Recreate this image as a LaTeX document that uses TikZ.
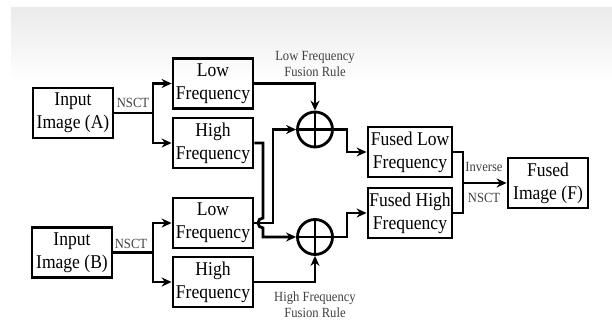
\documentclass[tikz,border=0pt]{standalone}
\usepackage{fontspec}
\setmainfont{Liberation Serif}[FakeStretch=0.9]
\usetikzlibrary{arrows.meta}
\begin{document}
\begin{tikzpicture}[x=1pt,y=-1pt,
  stagebox/.style={draw, line width=2.8pt, inner sep=0pt, minimum width=80pt,
    minimum height=50pt, align=center, font=\fontsize{19.5}{23}\selectfont},
  sumnode/.style={draw, circle, line width=2.8pt, minimum size=35pt, inner sep=0pt},
  wire/.style={line width=2.8pt},
  flow/.style={wire, -{Stealth[length=10pt,width=9pt]}},
  tag/.style={font=\fontsize{14}{16}\selectfont, text=black!75, align=center, inner sep=0pt}]
\useasboundingbox (0,0) rectangle (612,320);
% faint header band
\shade[top color=black!8, bottom color=white] (11,8) rectangle (612,82);

% source images and their NSCT subbands
\node[stagebox] (inA) at (73,113) {Input\\Image (A)};
\node[stagebox] (inB) at (72,252.5) {Input\\Image (B)};
\node[stagebox] (lowA) at (213,83.5) {Low\\Frequency};
\node[stagebox] (highA) at (213,143) {High\\Frequency};
\node[stagebox] (lowB) at (213,223) {Low\\Frequency};
\node[stagebox] (highB) at (213,282) {High\\Frequency};

% fusion adders
\node[sumnode] (sumT) at (315,129.5) {};
\node[sumnode] (sumB) at (315,237) {};
\foreach \s in {sumT,sumB}{
  \draw[wire] (\s.north) -- (\s.south);
  \draw[wire] (\s.west) -- (\s.east);
}

% fused subbands and output
\node[stagebox, minimum width=84pt] (fusedL) at (410,152) {Fused Low\\Frequency};
\node[stagebox, minimum width=84pt] (fusedH) at (410,213) {Fused High\\Frequency};
\node[stagebox] (out) at (548,183) {Fused\\Image (F)};

% labels
\node[tag] (nsctA) at (133,103) {NSCT};
\node[tag] (nsctB) at (131,244) {NSCT};
\node[tag] (ruleL) at (315,64) {Low Frequency\\Fusion Rule};
\node[tag] (ruleH) at (315,304.5) {High Frequency\\Fusion Rule};
\node[tag] (inv) at (484,167) {Inverse};
\node[tag] (nsctF) at (484,198) {NSCT};

% decomposition branches
\coordinate (jA) at (153,113);
\coordinate (jB) at (153,252.5);
\draw[wire] (inA.east) -- (jA);
\draw[flow] (jA) |- (lowA.west);
\draw[flow] (jA) |- (highA.west);
\draw[wire] (inB.east) -- (jB);
\draw[flow] (jB) |- (lowB.west);
\draw[flow] (jB) |- (highB.west);

% into the adders
\draw[flow] (lowA.east) -| (sumT.north);
\draw[flow] (highB.east) -| (sumB.south);
\coordinate (cx) at (273,223);
\draw[flow] (lowB.east) -- (cx) |- (sumT.west);
\coordinate (hx) at (263,143);
\draw[flow] (highA.east) -- (hx) -- (263,218)
  arc[start angle=270, end angle=90, radius=5] -- (263,237) -- (sumB.west);

% out of the adders
\coordinate (oT) at (347,129.5);
\coordinate (oB) at (347,237);
\draw[flow] (sumT.east) -- (oT) |- (fusedL.west);
\draw[flow] (sumB.east) -- (oB) |- (fusedH.west);

% inverse transform
\coordinate (mT) at (463,152);
\coordinate (mB) at (463,213);
\coordinate (mC) at (463,183);
\draw[wire] (fusedL.east) -- (mT) -- (mB) -- (fusedH.east);
\draw[flow] (mC) -- (out.west);
\end{tikzpicture}
\end{document}
